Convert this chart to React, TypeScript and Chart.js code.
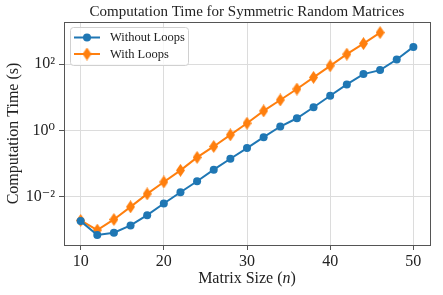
import React, { useEffect, useRef } from 'react';
import { Chart, registerables } from 'chart.js';

Chart.register(...registerables);

const matrixSizes = [10, 12, 14, 16, 18, 20, 22, 24, 26, 28, 30, 32, 34, 36, 38, 40, 42, 44, 46, 48, 50];
const withoutLoops = [0.00186, 0.000708, 0.000832, 0.00138, 0.00282, 0.00631, 0.0138, 0.0295, 0.0661, 0.141, 0.295, 0.631, 1.32, 2.34, 5.01, 11.2, 24.5, 50.1, 66.1, 138, 331];
const withLoopsSizes = [10, 12, 14, 16, 18, 20, 22, 24, 26, 28, 30, 32, 34, 36, 38, 40, 42, 44, 46];
const withLoops = [0.00195, 0.001, 0.00209, 0.00501, 0.0123, 0.0282, 0.0631, 0.155, 0.331, 0.741, 1.66, 3.89, 8.32, 17.8, 39.8, 89.1, 200, 417, 891];
const yTickValues = [0.01, 1, 100];
const yTickLabels = ['10⁻²', '10⁰', '10²'];
const xTickValues = [10, 20, 30, 40, 50];
const seriesNames = ['Without Loops', 'With Loops'];

const BLUE = '#1f77b4';
const ORANGE = '#ff7f0e';
const FONT = "'Liberation Serif', 'DejaVu Serif', serif";

function makeDiamond(color: string) {
  const c = document.createElement('canvas');
  c.width = 9;
  c.height = 13;
  const g = c.getContext('2d')!;
  g.fillStyle = color;
  g.beginPath();
  g.moveTo(4.5, 0);
  g.lineTo(9, 6.5);
  g.lineTo(4.5, 13);
  g.lineTo(0, 6.5);
  g.closePath();
  g.fill();
  return c;
}

export default function App() {
  const ref = useRef<HTMLCanvasElement>(null);

  useEffect(() => {
    document.body.style.margin = '0';
    const diamond = makeDiamond(ORANGE);

    const frameAndLegend = {
      id: 'frameAndLegend',
      afterDraw(chart: any) {
        const { ctx, chartArea: a } = chart;
        ctx.save();
        // spines
        ctx.strokeStyle = '#555';
        ctx.lineWidth = 1;
        ctx.strokeRect(Math.round(a.left) + 0.5, Math.round(a.top) + 0.5, Math.round(a.right - a.left), Math.round(a.bottom - a.top));
        // x axis title with italic n
        ctx.fillStyle = '#222';
        ctx.textBaseline = 'middle';
        const cx = (a.left + a.right) / 2;
        const y = 279;
        const p1 = 'Matrix Size (';
        const p2 = 'n';
        const p3 = ')';
        ctx.font = `16px ${FONT}`;
        const w1 = ctx.measureText(p1).width;
        const w3 = ctx.measureText(p3).width;
        ctx.font = `italic 16px ${FONT}`;
        const w2 = ctx.measureText(p2).width;
        let x = cx - (w1 + w2 + w3) / 2;
        ctx.textAlign = 'left';
        ctx.font = `16px ${FONT}`;
        ctx.fillText(p1, x, y);
        x += w1;
        ctx.font = `italic 16px ${FONT}`;
        ctx.fillText(p2, x, y);
        x += w2;
        ctx.font = `16px ${FONT}`;
        ctx.fillText(p3, x, y);

        // title centred over the plot area
        ctx.font = `15px ${FONT}`;
        ctx.textAlign = 'center';
        ctx.textBaseline = 'middle';
        ctx.fillStyle = '#222';
        ctx.fillText('Computation Time for Symmetric Random Matrices', cx, 12.5);

        // legend
        const bx = a.left + 6.5, by = a.top + 5.5, bw = 118, bh = 38;
        ctx.beginPath();
        const r = 3;
        ctx.moveTo(bx + r, by);
        ctx.lineTo(bx + bw - r, by);
        ctx.quadraticCurveTo(bx + bw, by, bx + bw, by + r);
        ctx.lineTo(bx + bw, by + bh - r);
        ctx.quadraticCurveTo(bx + bw, by + bh, bx + bw - r, by + bh);
        ctx.lineTo(bx + r, by + bh);
        ctx.quadraticCurveTo(bx, by + bh, bx, by + bh - r);
        ctx.lineTo(bx, by + r);
        ctx.quadraticCurveTo(bx, by, bx + r, by);
        ctx.closePath();
        ctx.fillStyle = 'rgba(255,255,255,0.8)';
        ctx.fill();
        ctx.strokeStyle = '#d0d0d0';
        ctx.stroke();

        const rows = [a.top + 15.5, a.top + 32];
        const colors = [BLUE, ORANGE];
        rows.forEach((ry, i) => {
          ctx.strokeStyle = colors[i];
          ctx.lineWidth = 2;
          ctx.beginPath();
          ctx.moveTo(a.left + 10, ry);
          ctx.lineTo(a.left + 36, ry);
          ctx.stroke();
          if (i === 0) {
            ctx.fillStyle = BLUE;
            ctx.beginPath();
            ctx.arc(a.left + 23, ry, 4, 0, Math.PI * 2);
            ctx.fill();
          } else {
            ctx.drawImage(diamond, a.left + 23 - 4.5, ry - 6.5);
          }
          ctx.fillStyle = '#222';
          ctx.font = `12.5px ${FONT}`;
          ctx.textAlign = 'left';
          ctx.textBaseline = 'middle';
          ctx.fillText(seriesNames[i], a.left + 46, ry + 0.5);
        });
        ctx.restore();
      },
    };

    const chart = new Chart(ref.current!, {
      type: 'line',
      data: {
        datasets: [
          {
            label: seriesNames[0],
            data: matrixSizes.map((x, i) => ({ x, y: withoutLoops[i] })),
            borderColor: BLUE,
            backgroundColor: BLUE,
            borderWidth: 2,
            pointRadius: 4,
            pointStyle: 'circle',
            pointBorderWidth: 0,
          },
          {
            label: seriesNames[1],
            data: withLoopsSizes.map((x, i) => ({ x, y: withLoops[i] })),
            borderColor: ORANGE,
            backgroundColor: ORANGE,
            borderWidth: 2,
            pointRadius: 5,
            pointStyle: diamond as any,
            pointBorderWidth: 0,
          },
        ],
      },
      options: {
        animation: false,
        responsive: false,
        layout: { padding: { left: 0, right: 13, top: 22, bottom: 0 } },
        plugins: {
          legend: { display: false },
          tooltip: { enabled: false },
          title: { display: false },
        },
        scales: {
          x: {
            type: 'linear',
            min: 8,
            max: 52,
            afterBuildTicks: (s: any) => {
              s.ticks = xTickValues.map((v) => ({ value: v }));
            },
            afterFit: (s: any) => {
              s.height = 50;
            },
            ticks: {
              font: { family: FONT, size: 16 },
              color: '#222',
              padding: 2,
              maxRotation: 0,
              callback: (v: any) => String(v),
            },
            grid: { color: '#dcdcdc', tickColor: '#555', tickLength: 5, lineWidth: 1 },
            border: { display: true, color: '#555' },
          },
          y: {
            type: 'logarithmic',
            min: Math.pow(10, -3.45),
            max: Math.pow(10, 3.27),
            afterBuildTicks: (s: any) => {
              s.ticks = yTickValues.map((v) => ({ value: v }));
            },
            afterFit: (s: any) => {
              s.width = 64;
            },
            ticks: {
              font: { family: FONT, size: 16 },
              color: '#222',
              padding: 4,
              callback: (v: any) => {
                const i = yTickValues.findIndex((t) => Math.abs(t - v) / t < 1e-6);
                return i >= 0 ? yTickLabels[i] : '';
              },
            },
            grid: { color: '#dcdcdc', tickColor: '#555', tickLength: 5, lineWidth: 1 },
            border: { display: true, color: '#555' },
            title: {
              display: true,
              text: 'Computation Time (s)',
              font: { family: FONT, size: 16 },
              color: '#222',
              padding: { top: 4, bottom: 0 },
            },
          },
        },
      },
      plugins: [frameAndLegend],
    });
    return () => chart.destroy();
  }, []);

  return (
    <div style={{ position: 'fixed', left: 0, top: 0, width: 443, height: 295 }}>
      <canvas ref={ref} width={443} height={295} />
    </div>
  );
}
